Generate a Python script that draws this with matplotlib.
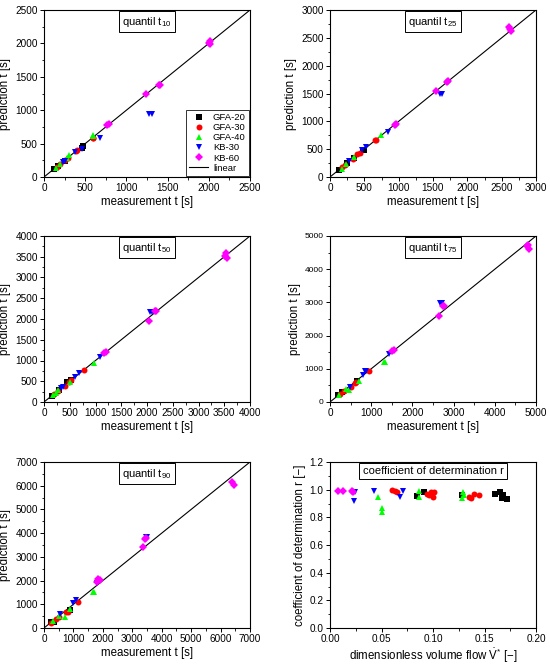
import matplotlib
matplotlib.use("Agg")
import matplotlib.pyplot as plt
from matplotlib.ticker import MultipleLocator, AutoMinorLocator, FormatStrFormatter
from matplotlib.lines import Line2D

plt.rcParams['font.family'] = ['Liberation Sans', 'DejaVu Sans']
plt.rcParams['mathtext.fontset'] = 'custom'
plt.rcParams['mathtext.rm'] = 'Liberation Sans'
plt.rcParams['mathtext.it'] = 'Liberation Sans:italic'

series_names = ["GFA-20", "GFA-30", "GFA-40", "KB-30", "KB-60"]

# quantil t10: (measurement, prediction)
t10_gfa20_x = [120, 170, 250, 460, 470]
t10_gfa20_y = [125, 170, 240, 440, 460]
t10_gfa30_x = [160, 200, 250, 290, 390, 400, 590, 600]
t10_gfa30_y = [150, 200, 260, 290, 390, 400, 580, 590]
t10_gfa40_x = [150, 200, 280, 300, 590, 600]
t10_gfa40_y = [130, 200, 280, 330, 610, 630]
t10_kb30_x = [230, 250, 380, 460, 680, 1280, 1310]
t10_kb30_y = [230, 240, 370, 420, 590, 950, 950]
t10_kb60_x = [760, 790, 1240, 1390, 1410, 2000, 2010, 2020]
t10_kb60_y = [780, 800, 1240, 1370, 1370, 2010, 2030, 1990]

# quantil t25
t25_gfa20_x = [130, 250, 350, 480, 500]
t25_gfa20_y = [130, 250, 350, 480, 490]
t25_gfa30_x = [180, 220, 330, 400, 430, 660, 670]
t25_gfa30_y = [180, 210, 330, 420, 440, 660, 660]
t25_gfa40_x = [170, 240, 350, 740]
t25_gfa40_y = [150, 240, 360, 760]
t25_kb30_x = [280, 470, 530, 840, 1600, 1630]
t25_kb30_y = [280, 480, 540, 810, 1500, 1500]
t25_kb60_x = [940, 960, 1550, 1700, 1720, 2610, 2620, 2630]
t25_kb60_y = [940, 960, 1540, 1710, 1720, 2700, 2660, 2630]

# quantil t50
t50_gfa20_x = [150, 300, 450, 530]
t50_gfa20_y = [150, 300, 470, 540]
t50_gfa30_x = [200, 280, 400, 480, 520, 780]
t50_gfa30_y = [200, 270, 390, 490, 520, 770]
t50_gfa40_x = [180, 230, 270, 500, 980]
t50_gfa40_y = [180, 220, 280, 470, 950]
t50_kb30_x = [330, 360, 600, 680, 1080, 2050, 2100]
t50_kb30_y = [330, 350, 600, 700, 1080, 2170, 2180]
t50_kb60_x = [1170, 1200, 2030, 2150, 2170, 3520, 3540, 3550]
t50_kb60_y = [1170, 1200, 1960, 2200, 2200, 3520, 3580, 3470]

# quantil t75
t75_gfa20_x = [200, 300, 650]
t75_gfa20_y = [200, 300, 640]
t75_gfa30_x = [250, 340, 500, 600, 620, 950]
t75_gfa30_y = [250, 340, 440, 570, 600, 930]
t75_gfa40_x = [220, 400, 450, 700, 1300, 1340]
t75_gfa40_y = [220, 380, 360, 620, 1200, 1200]
t75_kb30_x = [480, 800, 860, 880, 1420, 2680, 2720]
t75_kb30_y = [460, 800, 940, 940, 1450, 2970, 2970]
t75_kb60_x = [1500, 1550, 2640, 2750, 2770, 4790, 4800, 4820]
t75_kb60_y = [1550, 1580, 2600, 2900, 2900, 4700, 4720, 4600]

# quantil t90
t90_gfa20_x = [250, 350, 870, 900]
t90_gfa20_y = [250, 270, 750, 740]
t90_gfa30_x = [230, 400, 500, 750, 800, 1150]
t90_gfa30_y = [220, 400, 450, 680, 690, 1100]
t90_gfa40_x = [300, 500, 700, 900, 1650, 1700]
t90_gfa40_y = [300, 500, 450, 800, 1520, 1520]
t90_kb30_x = [560, 980, 1080, 1800, 3450, 3500]
t90_kb30_y = [600, 1060, 1200, 1900, 3850, 3850]
t90_kb60_x = [1800, 1850, 1900, 3350, 3420, 3450, 6400, 6450]
t90_kb60_y = [1950, 2050, 2020, 3400, 3750, 3800, 6150, 6050]

# coefficient of determination r vs dimensionless volume flow
r_gfa20_x = [0.084, 0.091, 0.128, 0.160, 0.165, 0.167, 0.168, 0.172]
r_gfa20_y = [0.955, 0.98, 0.96, 0.97, 0.98, 0.94, 0.96, 0.93]
r_gfa30_x = [0.060, 0.063, 0.065, 0.094, 0.096, 0.098, 0.100, 0.101,
             0.135, 0.137, 0.140, 0.145]
r_gfa30_y = [1.00, 0.99, 0.98, 0.97, 0.96, 0.98, 0.95, 0.98,
             0.95, 0.94, 0.97, 0.96]
r_gfa40_x = [0.047, 0.050, 0.050, 0.086, 0.086, 0.129, 0.128, 0.130]
r_gfa40_y = [0.95, 0.87, 0.84, 0.99, 0.95, 0.98, 0.94, 0.96]
r_kb30_x = [0.023, 0.024, 0.043, 0.068, 0.071]
r_kb30_y = [0.92, 0.98, 0.99, 0.95, 0.99]
r_kb60_x = [0.008, 0.013, 0.021, 0.022]
r_kb60_y = [0.99, 0.99, 0.99, 0.985]

quantile_panels = [
    ("10", 2500, 500, [(t10_gfa20_x, t10_gfa20_y), (t10_gfa30_x, t10_gfa30_y),
                      (t10_gfa40_x, t10_gfa40_y), (t10_kb30_x, t10_kb30_y),
                      (t10_kb60_x, t10_kb60_y)]),
    ("25", 3000, 500, [(t25_gfa20_x, t25_gfa20_y), (t25_gfa30_x, t25_gfa30_y),
                      (t25_gfa40_x, t25_gfa40_y), (t25_kb30_x, t25_kb30_y),
                      (t25_kb60_x, t25_kb60_y)]),
    ("50", 4000, 500, [(t50_gfa20_x, t50_gfa20_y), (t50_gfa30_x, t50_gfa30_y),
                      (t50_gfa40_x, t50_gfa40_y), (t50_kb30_x, t50_kb30_y),
                      (t50_kb60_x, t50_kb60_y)]),
    ("75", 5000, 1000, [(t75_gfa20_x, t75_gfa20_y), (t75_gfa30_x, t75_gfa30_y),
                       (t75_gfa40_x, t75_gfa40_y), (t75_kb30_x, t75_kb30_y),
                       (t75_kb60_x, t75_kb60_y)]),
    ("90", 7000, 1000, [(t90_gfa20_x, t90_gfa20_y), (t90_gfa30_x, t90_gfa30_y),
                       (t90_gfa40_x, t90_gfa40_y), (t90_kb30_x, t90_kb30_y),
                       (t90_kb60_x, t90_kb60_y)]),
]
r_series = [(r_gfa20_x, r_gfa20_y), (r_gfa30_x, r_gfa30_y), (r_gfa40_x, r_gfa40_y),
            (r_kb30_x, r_kb30_y), (r_kb60_x, r_kb60_y)]

colors = ["#000000", "#FF0000", "#00FF00", "#0000FF", "#FF00FF"]
markers = ["s", "o", "^", "v", "D"]
msizes = [3.8, 4.3, 4.6, 4.6, 3.8]

W, H = 550, 669
fig = plt.figure(figsize=(W / 100, H / 100), dpi=100)

def ax_rect(l, t, r, b):
    return [l / W, 1 - b / H, (r - l) / W, (b - t) / H]

rects = [ax_rect(44, 10, 250, 177), ax_rect(330, 10, 536, 177),
         ax_rect(44, 236, 250, 402), ax_rect(330, 236, 536, 402),
         ax_rect(44, 462, 250, 628), ax_rect(330, 462, 536, 628)]

TICK_FS = 7.2
LAB_FS = 8.3
BOX_FS = 8
MINUS = "\u2212"

def style_axes(ax):
    ax.tick_params(which='both', direction='out', labelsize=TICK_FS,
                   top=False, right=False, pad=1.5)
    ax.tick_params(which='major', length=3, width=0.7)
    ax.tick_params(which='minor', length=1.8, width=0.6)
    for s in ax.spines.values():
        s.set_linewidth(0.8)
    ax.xaxis.set_minor_locator(AutoMinorLocator(2))
    ax.yaxis.set_minor_locator(AutoMinorLocator(2))

for i, (q, vmax, step, series) in enumerate(quantile_panels):
    ax = fig.add_axes(rects[i])
    ax.plot([0, vmax], [0, vmax], color='black', lw=0.8, zorder=1)
    for (xs, ys), c, m, ms in zip(series, colors, markers, msizes):
        ax.plot(xs, ys, linestyle='none', marker=m, color=c, markersize=ms,
                markeredgewidth=0, zorder=3)
    ax.set_xlim(0, vmax)
    ax.set_ylim(0, vmax)
    ax.xaxis.set_major_locator(MultipleLocator(step))
    ax.yaxis.set_major_locator(MultipleLocator(step))
    style_axes(ax)
    if q == "75":
        ax.tick_params(axis='y', labelsize=6)
    ax.set_xlabel("measurement t [s]", fontsize=LAB_FS, labelpad=2)
    ax.set_ylabel("prediction t [s]", fontsize=LAB_FS, labelpad=3)
    ax.text(0.5, 0.972, r"quantil t$_{%s}$" % q, transform=ax.transAxes,
            ha='center', va='top', fontsize=BOX_FS,
            bbox=dict(boxstyle='square,pad=0.3', facecolor='white',
                      edgecolor='black', linewidth=0.7))
    if i == 0:
        handles = [Line2D([], [], linestyle='none', marker=m, color=c,
                          markersize=ms, markeredgewidth=0)
                   for c, m, ms in zip(colors, markers, msizes)]
        handles.append(Line2D([], [], color='black', lw=0.8))
        leg = ax.legend(handles, series_names + ["linear"], loc='lower right',
                        fontsize=6.8, frameon=True, fancybox=False,
                        borderaxespad=0.15, handlelength=2.0,
                        handletextpad=0.5, labelspacing=0.12,
                        borderpad=0.3)
        leg.get_frame().set_edgecolor('black')
        leg.get_frame().set_linewidth(0.7)

ax = fig.add_axes(rects[5])
for (xs, ys), c, m, ms in zip(r_series, colors, markers, msizes):
    ax.plot(xs, ys, linestyle='none', marker=m, color=c, markersize=ms,
            markeredgewidth=0, zorder=3)
ax.set_xlim(0, 0.20)
ax.set_ylim(0, 1.2)
ax.xaxis.set_major_locator(MultipleLocator(0.05))
ax.yaxis.set_major_locator(MultipleLocator(0.2))
ax.xaxis.set_major_formatter(FormatStrFormatter('%.2f'))
ax.yaxis.set_major_formatter(FormatStrFormatter('%.1f'))
style_axes(ax)
ax.set_xlabel(r"dimensionless volume flow $\dot{\mathrm{V}}^{*}$ [" + MINUS + "]",
              fontsize=LAB_FS, labelpad=2)
ax.set_ylabel("coefficient of determination r [" + MINUS + "]",
              fontsize=LAB_FS, labelpad=3)
ax.text(0.5, 0.975, "coefficient of determination r", transform=ax.transAxes,
        ha='center', va='top', fontsize=BOX_FS,
        bbox=dict(boxstyle='square,pad=0.3', facecolor='white',
                  edgecolor='black', linewidth=0.7))

fig.savefig("out.png", dpi=100)
